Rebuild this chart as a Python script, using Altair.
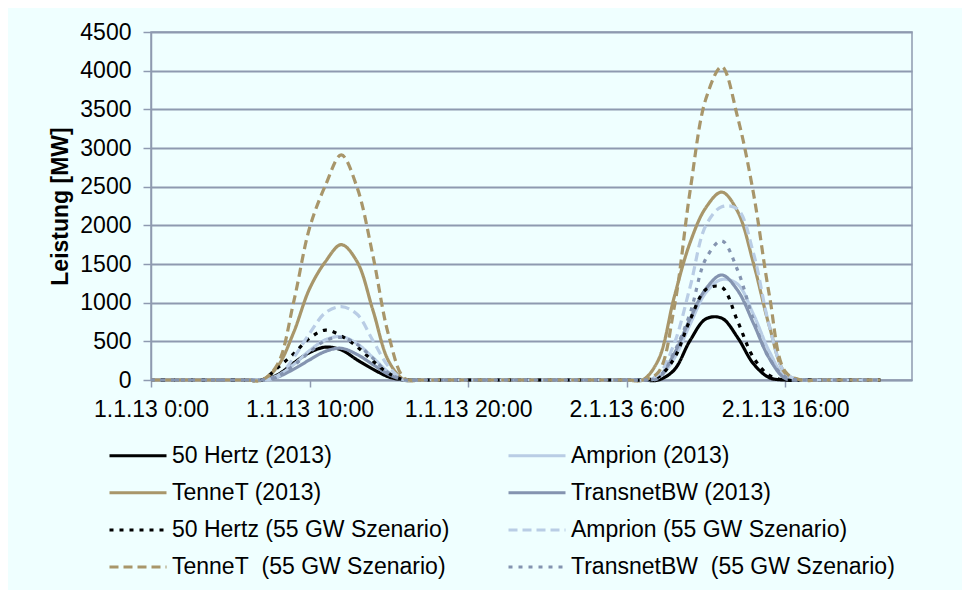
import altair as alt
import pandas as pd

# ---- data (hourly, 1.1.13 0:00 .. 2.1.13 22:00) ----
series_names = [
    "50 Hertz (2013)", "Amprion (2013)",
    "TenneT (2013)", "TransnetBW (2013)",
    "50 Hertz (55 GW Szenario)", "Amprion (55 GW Szenario)",
    "TenneT\u00a0 (55 GW Szenario)", "TransnetBW\u00a0 (55 GW Szenario)",
]
series_colors = ["#000000", "#B9CDE5", "#A8966A", "#8494B0",
                 "#000000", "#B9CDE5", "#A8966A", "#8494B0"]
series_dashes = [[1, 0], [1, 0], [1, 0], [1, 0],
                 [4, 6], [9, 5], [9, 5], [4, 6]]

# day 1: hours 7..16, day 2: hours 31..41 (all other hours are 0)
hertz50_2013_d1 = [0, 70, 220, 355, 425, 390, 260, 140, 40, 0]
hertz50_2013_d2 = [0, 0, 130, 510, 790, 800, 550, 210, 30, 0, 0]
amprion_2013_d1 = [0, 60, 200, 380, 520, 560, 470, 290, 100, 0]
amprion_2013_d2 = [0, 30, 280, 720, 1130, 1300, 1240, 850, 370, 40, 0]
tennet_2013_d1 = [0, 180, 616, 1180, 1530, 1750, 1530, 900, 240, 0]
tennet_2013_d2 = [0, 259, 1071, 1775, 2230, 2430, 2180, 1510, 698, 90, 0]
transnet_2013_d1 = [0, 40, 140, 260, 370, 410, 330, 200, 70, 0]
transnet_2013_d2 = [0, 40, 340, 790, 1180, 1358, 1160, 733, 280, 20, 0]
hertz50_55_d1 = [0, 160, 340, 540, 645, 570, 430, 245, 85, 0]
hertz50_55_d2 = [0, 40, 280, 776, 1170, 1200, 760, 290, 60, 0, 0]
amprion_55_d1 = [0, 40, 290, 600, 870, 948, 850, 510, 170, 0]
amprion_55_d2 = [0, 70, 470, 1200, 2000, 2240, 2210, 1640, 700, 90, 0]
tennet_55_d1 = [0, 210, 1010, 1965, 2515, 2910, 2490, 1605, 570, 20]
tennet_55_d2 = [0, 100, 935, 2440, 3636, 4050, 3400, 2414, 1100, 110, 0]
transnet_55_d1 = [0, 50, 190, 360, 510, 550, 460, 280, 90, 0]
transnet_55_d2 = [0, 20, 360, 860, 1570, 1800, 1420, 780, 280, 40, 0]

day_values = [
    (hertz50_2013_d1, hertz50_2013_d2), (amprion_2013_d1, amprion_2013_d2),
    (tennet_2013_d1, tennet_2013_d2), (transnet_2013_d1, transnet_2013_d2),
    (hertz50_55_d1, hertz50_55_d2), (amprion_55_d1, amprion_55_d2),
    (tennet_55_d1, tennet_55_d2), (transnet_55_d1, transnet_55_d2),
]

tick_hours = [0, 10, 20, 30, 40]
tick_labels = ["1.1.13 0:00", "1.1.13 10:00", "1.1.13 20:00",
               "2.1.13 6:00", "2.1.13 16:00"]
y_ticks = [0, 500, 1000, 1500, 2000, 2500, 3000, 3500, 4000, 4500]

rows = []
for name, (d1, d2) in zip(series_names, day_values):
    vals = [0] * 7 + d1 + [0] * 14 + d2 + [0] * 5
    for h, v in enumerate(vals):
        rows.append({"series": name, "hour": h, "mw": v})
df = pd.DataFrame(rows)

label_expr = " : ".join(
    f"datum.value == {h} ? '{t}'" for h, t in zip(tick_hours, tick_labels)
) + " : ''"

FONT = "Liberation Sans"
GRID = "#8E9AB0"

# long horizontal legend line drawn mostly to the left of a small symbol slot
legend = alt.Legend(
    title=None, orient="none", legendX=-2, legendY=412, columns=2,
    direction="horizontal",
    symbolType="M-8.5,0H1", symbolSize=144, symbolStrokeWidth=3,
    labelFont=FONT, labelFontSize=23, labelColor="black", labelLimit=600,
    labelOffset=0, rowPadding=13.2, columnPadding=52,
)

chart = alt.Chart(df).mark_line(interpolate="catmull-rom", strokeWidth=3.2).encode(
    x=alt.X("hour:Q",
            scale=alt.Scale(domain=[0, 48], nice=False, zero=True),
            axis=alt.Axis(values=tick_hours, labelExpr=label_expr, title=None,
                          grid=False, tickSize=7, labelPadding=11,
                          labelOverlap=False, labelFlush=False, labelBound=False)),
    y=alt.Y("mw:Q",
            scale=alt.Scale(domain=[0, 4500], nice=False),
            axis=alt.Axis(values=y_ticks, format="d", title="Leistung [MW]", grid=True,
                          tickSize=8, labelPadding=12, titlePadding=7,
                          titleFont=FONT, titleFontSize=23, titleFontWeight="bold",
                          titleColor="black")),
    color=alt.Color("series:N", scale=alt.Scale(domain=series_names, range=series_colors),
                    legend=legend),
    strokeDash=alt.StrokeDash("series:N", scale=alt.Scale(domain=series_names, range=series_dashes),
                              legend=legend),
).properties(
    width=761, height=348,
    autosize=alt.AutoSizeParams(type="none"),
    padding={"left": 143, "top": 24, "right": 50, "bottom": 210},
    background="#EFFFFF",
).configure_view(
    stroke=GRID, strokeWidth=1.5
).configure_axis(
    labelFont=FONT, labelFontSize=23, labelColor="black",
    domainColor=GRID, domainWidth=1.5, tickColor=GRID, tickWidth=1.5,
    gridColor=GRID, gridWidth=1.8,
)

chart.save("out.html", embed_options={"renderer": "svg", "actions": False})
